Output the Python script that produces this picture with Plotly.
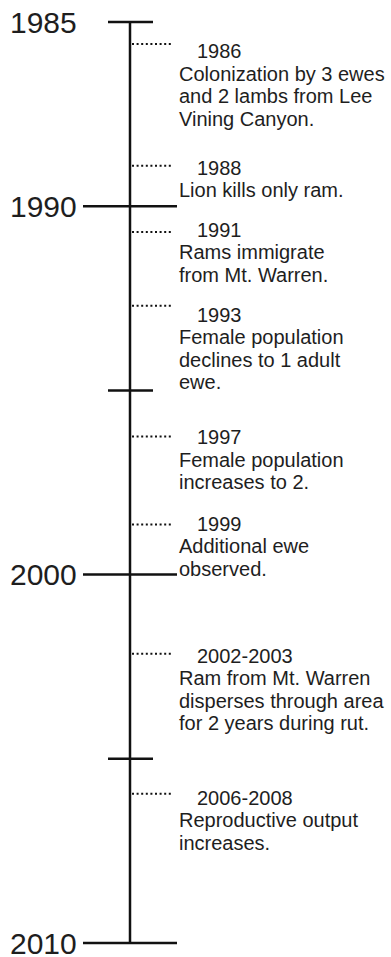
import plotly.graph_objects as go

# ---- data ----
axis_start = 1985
axis_end = 2010
major_years = [1990, 2000, 2010]
minor_years = [1985, 1995, 2005]
label_years = [1985, 1990, 2000, 2010]

event_pos = [1985.6, 1988.9, 1990.7, 1992.7, 1996.25, 1998.64, 2002.15, 2005.95]
event_labels = ["1986", "1988", "1991", "1993", "1997", "1999", "2002-2003", "2006-2008"]
event_texts = [
    ["Colonization by 3 ewes", "and 2 lambs from Lee", "Vining Canyon."],
    ["Lion kills only ram."],
    ["Rams immigrate", "from Mt. Warren."],
    ["Female population", "declines to 1 adult", "ewe."],
    ["Female population", "increases to 2."],
    ["Additional ewe", "observed."],
    ["Ram from Mt. Warren", "disperses through area", "for 2 years during rut."],
    ["Reproductive output", "increases."],
]

# ---- styling ----
W, H = 391, 957
top_px, bot_px = 22, 943
px_per_year = (bot_px - top_px) / (axis_end - axis_start)
y_top = axis_start - top_px / px_per_year
y_bot = axis_end + (H - bot_px) / px_per_year

AX_X = 130
LINE_COL = "#111111"
TEXT_COL = "#1e1e1e"
FONT = "Liberation Sans, Arial, sans-serif"
label_nudge_px = [7, 2, -2, 9, 1, -1, 2, 4]   # text block offset below its dotted line
LINE_STEP = 22.5

fig = go.Figure()

# main vertical line
fig.add_trace(go.Scatter(x=[AX_X, AX_X], y=[axis_start, axis_end], mode="lines",
                         line=dict(color=LINE_COL, width=2.5), hoverinfo="skip"))

# major ticks
mx, my = [], []
for yr in major_years:
    mx += [83, 177, None]
    my += [yr, yr, None]
fig.add_trace(go.Scatter(x=mx, y=my, mode="lines",
                         line=dict(color=LINE_COL, width=2.5), hoverinfo="skip"))

# minor ticks
nx, ny = [], []
for yr in minor_years:
    nx += [108, 153, None]
    ny += [yr, yr, None]
fig.add_trace(go.Scatter(x=nx, y=ny, mode="lines",
                         line=dict(color=LINE_COL, width=2.5), hoverinfo="skip"))

# dotted event connectors
dx, dy = [], []
for p in event_pos:
    dx += [AX_X + 2, 172, None]
    dy += [p, p, None]
fig.add_trace(go.Scatter(x=dx, y=dy, mode="lines",
                         line=dict(color=LINE_COL, width=2, dash="2px,2.6px"), hoverinfo="skip"))

annotations = []
for yr in label_years:
    annotations.append(dict(x=79, y=yr, xref="x", yref="y", text=str(yr),
                            showarrow=False, xanchor="right", yanchor="middle",
                            font=dict(family=FONT, size=30, color=TEXT_COL)))

for p, lab, lines, nud in zip(event_pos, event_labels, event_texts, label_nudge_px):
    annotations.append(dict(x=195, y=p, xref="x", yref="y", text=lab,
                            showarrow=False, xanchor="left", yanchor="middle", yshift=-nud,
                            font=dict(family=FONT, size=20, color=TEXT_COL)))
    for i, ln in enumerate(lines):
        annotations.append(dict(x=177, y=p, xref="x", yref="y", text=ln,
                                showarrow=False, xanchor="left", yanchor="middle",
                                yshift=-nud - LINE_STEP * (i + 1),
                                font=dict(family=FONT, size=20, color=TEXT_COL)))

fig.update_layout(
    width=W, height=H,
    margin=dict(l=0, r=0, t=0, b=0),
    paper_bgcolor="white", plot_bgcolor="white",
    showlegend=False,
    xaxis=dict(range=[0, W], visible=False, fixedrange=True),
    yaxis=dict(range=[y_bot, y_top], visible=False, fixedrange=True),
    annotations=annotations,
)

fig.write_html("out.html", config={"displayModeBar": False},
               post_script="document.body.style.margin='0';document.body.style.overflow='hidden';")
